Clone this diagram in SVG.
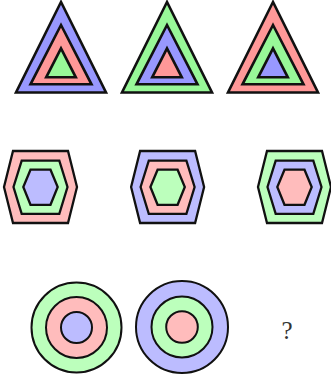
<svg xmlns="http://www.w3.org/2000/svg" width="331" height="381" viewBox="0 0 331 381">
<style>
.s{stroke:#111;stroke-linejoin:miter;}
.t{stroke-width:2.6;}
.h{stroke-width:2.3;}
.c{stroke-width:2;}
.B{fill:#9898ff;} .R{fill:#ff9898;} .G{fill:#98f898;}
.b{fill:#bcbcff;} .r{fill:#ffbcbc;} .g{fill:#bcffbc;}
.q{font-family:"Liberation Serif",serif;font-size:25px;fill:#333;}
</style>
<defs>
<polygon id="t1" points="0,2 -45,92.5 45,92.5"/>
<polygon id="t2" points="0,25 -30.5,84.3 30.5,84.3"/>
<polygon id="t3" points="0,48.3 -14.8,77.3 14.8,77.3"/>
<polygon id="h1" points="-27.5,-36 27.5,-36 36.5,0 27.5,36 -27.5,36 -36.5,0"/>
<polygon id="h2" points="-18.8,-26.3 18.8,-26.3 27,0 18.8,26.8 -18.8,26.8 -27,0"/>
<polygon id="h3" points="-10,-17.3 10,-17.3 17.2,0 10,17.8 -10,17.8 -17.2,0"/>
</defs>
<g id="triangle1" class="s t"><use href="#t1" x="61" class="B"/><use href="#t2" x="61" class="R"/><use href="#t3" x="61" class="G"/></g>
<g id="triangle2" class="s t"><use href="#t1" x="167" class="G"/><use href="#t2" x="167" class="B"/><use href="#t3" x="167" class="R"/></g>
<g id="triangle3" class="s t"><use href="#t1" x="273" class="R"/><use href="#t2" x="273" class="G"/><use href="#t3" x="273" class="B"/></g>
<g id="hexagon1" class="s h" transform="translate(40.5,187)"><use href="#h1" class="r"/><use href="#h2" class="g"/><use href="#h3" class="b"/></g>
<g id="hexagon2" class="s h" transform="translate(167.6,187)"><use href="#h1" class="b"/><use href="#h2" class="r"/><use href="#h3" class="g"/></g>
<g id="hexagon3" class="s h" transform="translate(294.5,187)"><use href="#h1" class="g"/><use href="#h2" class="b"/><use href="#h3" class="r"/></g>
<g id="circle1" class="s c"><circle cx="76.5" cy="327.5" r="45" class="g"/><circle cx="76.5" cy="327.5" r="30.5" class="r"/><circle cx="76.5" cy="327.5" r="15.5" class="b"/></g>
<g id="circle2" class="s c"><circle cx="182" cy="327" r="46" class="b"/><circle cx="182" cy="327" r="30.5" class="g"/><circle cx="182" cy="327" r="15.8" class="r"/></g>
<g id="question"><text x="287" y="339" text-anchor="middle" class="q">?</text></g>
</svg>
